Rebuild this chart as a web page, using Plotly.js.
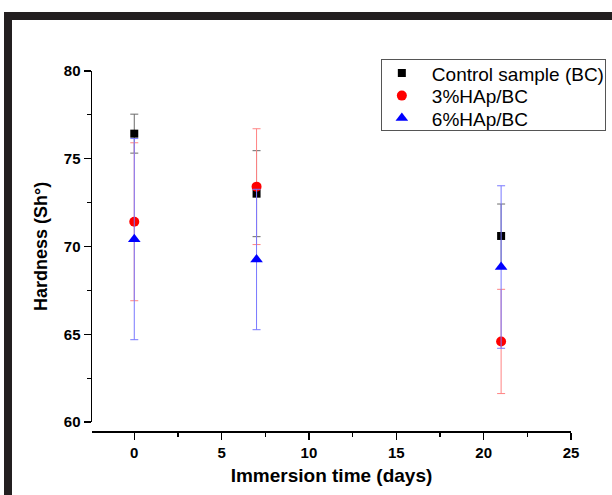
<!DOCTYPE html>
<html><head><meta charset="utf-8">
<script src="https://cdn.plot.ly/plotly-3.0.1.min.js"></script>
<style>
html,body{margin:0;padding:0;background:#fff;}
#wrap{position:relative;width:612px;height:495px;overflow:hidden;}
#chart{width:612px;height:495px;}
#frame{position:absolute;left:4px;top:12px;width:640px;height:520px;border-left:8px solid #231f20;border-top:8px solid #231f20;pointer-events:none;}
</style></head>
<body><div id="wrap"><div id="chart"></div><div id="frame"></div></div>
<script>
const days = [0, 7, 21];
const seriesNames = ['Control sample (BC)', '3%HAp/BC', '6%HAp/BC'];
const control = [76.43, 73.01, 70.6];
const controlErr = [1.11, 2.45, 1.82];
const hap3 = [71.41, 73.41, 64.59];
const hap3Err = [4.5, 3.3, 2.97];
const hap6 = [70.42, 69.26, 68.83];
const hap6Err = [5.73, 4.0, 4.63];

const font = 'Liberation Sans, Arial, sans-serif';
function tr(name, y, err, sym, col, ecol, size){
  return {x: days, y: y, name: name, type:'scatter', mode:'markers',
    marker:{symbol:sym, color:col, size:size},
    error_y:{type:'data', array:err, visible:true, color:ecol, thickness:1, width:4}};
}
const data = [
  tr(seriesNames[0], control, controlErr, 'square', '#000000', '#6a6a6a', 8),
  tr(seriesNames[1], hap3, hap3Err, 'circle', '#ff0000', '#ff8484', 10),
  tr(seriesNames[2], hap6, hap6Err, 'triangle-up', '#0000ff', '#7878ff', 11)
];
const layout = {
  width:612, height:495,
  margin:{l:92, r:41, t:71, b:64, autoexpand:false},
  paper_bgcolor:'#fff', plot_bgcolor:'#fff',
  showlegend:true,
  legend:{x:0.603, y:1.033, xanchor:'left', yanchor:'top',
    bordercolor:'#555', borderwidth:1, bgcolor:'#fff',
    font:{family:font, size:19, color:'#000'}, tracegroupgap:0, itemwidth:40},
  xaxis:{range:[-2.42, 25], anchor:'free', position:0,
    showline:true, linecolor:'#000', linewidth:1.5, showgrid:false, zeroline:false,
    ticks:'outside', ticklen:7, tickwidth:1.2, tickcolor:'#000', dtick:5, tick0:0,
    minor:{ticks:'outside', ticklen:4, dtick:2.5, tick0:0, tickcolor:'#000', tickwidth:1.2},
    tickfont:{family:font, size:15, color:'#000', weight:'bold'},
    title:{text:'Immersion time (days)', font:{family:font, size:19, color:'#000', weight:'bold'}, standoff:9}},
  yaxis:{range:[60, 80], domain:[0.025, 1],
    showline:true, linecolor:'#000', linewidth:1.5, showgrid:false, zeroline:false,
    ticks:'outside', ticklen:7, tickwidth:1.2, tickcolor:'#000', dtick:5, tick0:60,
    minor:{ticks:'outside', ticklen:4, dtick:2.5, tick0:60, tickcolor:'#000', tickwidth:1.2},
    tickfont:{family:font, size:15, color:'#000', weight:'bold'},
    title:{text:'Hardness (Sh°)', font:{family:font, size:18, color:'#000', weight:'bold'}, standoff:11}}
};
Plotly.newPlot('chart', data, layout, {displayModeBar:false, staticPlot:true}).then(function(){
  // tighten legend row spacing and box size to match reference
  const leg = document.querySelector('.legend');
  if(!leg) return;
  const items = leg.querySelectorAll('g.traces');
  const rowGap = 22.5, firstY = 14;
  items.forEach(function(g, i){
    const m = /translate\(([-\d.]+)[ ,]+([-\d.]+)\)/.exec(g.getAttribute('transform') || '');
    const x = m ? parseFloat(m[1]) : 0;
    g.setAttribute('transform', 'translate(' + x + ',' + (firstY + i*rowGap) + ')');
    const pts = g.querySelector('g.legendpoints');
    if(pts){
      const t = pts.getAttribute('transform') || '';
      pts.setAttribute('transform', t + ' translate(-5,0)');
    }
  });
  const bg = leg.querySelector('rect.bg');
  if(bg){ bg.setAttribute('height', 71); bg.setAttribute('width', 224); }
});
</script></body></html>
